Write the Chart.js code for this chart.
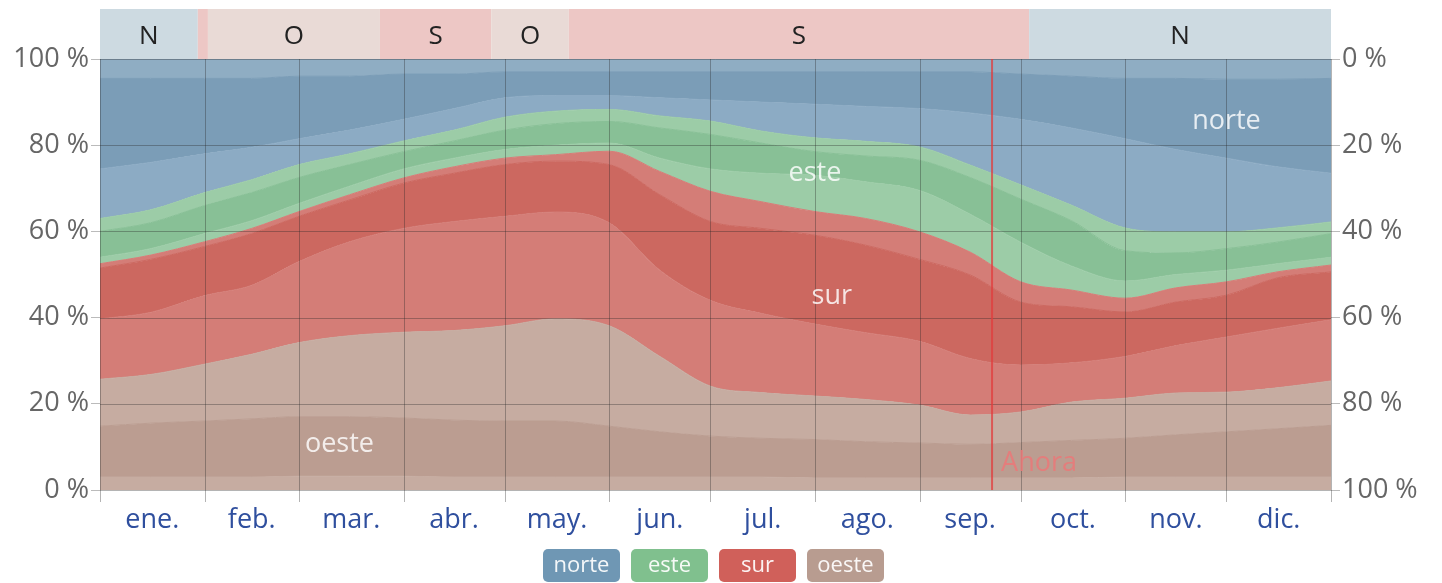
<!DOCTYPE html>
<html>
<head>
<meta charset="utf-8">
<script src="https://cdn.jsdelivr.net/npm/chart.js@4.4.1/dist/chart.umd.min.js"></script>
<style>
	html, body { margin: 0; padding: 0; background: #fff; }
	#wrap { width: 1442px; height: 583px; }
</style>
</head>
<body>
<div id="wrap"><canvas id="chart" width="1442" height="583"></canvas></div>
<script>
// day of year for each sample
const days = [0, 15, 31, 45, 59, 74, 90, 105, 120, 135, 151, 166, 181, 196, 212, 227, 243, 258, 273, 288, 304, 319, 334, 349, 365];

// upper edge (cumulative %) of each band, bottom to top
const oesteNO = [3, 3, 3, 3, 3.2, 3.2, 3.2, 3, 3, 3, 3, 3, 3, 3, 2.8, 2.8, 2.8, 2.8, 2.8, 2.8, 3, 3, 3, 3, 3];
const oesteO = [14.8, 15.5, 16, 16.5, 17, 17, 16.7, 16.2, 16, 16, 14.8, 13.5, 12.5, 12, 11.7, 11.2, 10.9, 10.6, 11, 11.5, 12, 12.8, 13.5, 14.2, 15];
const oesteSO = [25.7, 26.8, 29.2, 31.5, 34.2, 35.8, 36.6, 37, 38.1, 39.7, 38.1, 31, 24.1, 22.6, 21.8, 21, 19.7, 17.4, 18.1, 20.4, 21.3, 22.5, 22.7, 23.7, 25.3];
const surSO = [39.7, 41.2, 45.1, 47.5, 53, 57.6, 60.7, 62.3, 63.5, 64.5, 62, 51, 44, 41, 38.5, 36.5, 34.5, 30.5, 29, 29.5, 31, 33.5, 35.5, 37.5, 39.5];
const surS = [51.5, 53.5, 56.5, 59.5, 63.5, 67.3, 71.2, 73.5, 75.5, 76.3, 75.5, 68.5, 62.3, 60.7, 59.1, 56.8, 53.5, 49.9, 43.6, 42.5, 41.3, 43.6, 45.2, 49.2, 50.6];
const surSE = [52.5, 54.5, 57.6, 60.7, 64.6, 68.5, 72.4, 75, 77, 77.8, 78.6, 73.9, 69.3, 66.9, 64.6, 63, 59.9, 55.2, 48.3, 46.4, 44.5, 46.9, 48.3, 50.6, 52.2];
const esteSE = [54, 56, 59.5, 62.5, 66.5, 70.5, 74.5, 77, 79, 80, 80.5, 77, 74.5, 73.5, 73, 71.5, 69.5, 64, 57.5, 52, 48.5, 50, 51, 52.5, 54];
const esteE = [60, 62, 66, 69, 72.5, 75.5, 78.5, 81, 83.5, 85, 85.5, 84, 82.5, 80.5, 78.5, 77.5, 76.5, 72.5, 67.5, 62.5, 55.5, 55, 56, 57.5, 59.5];
const esteNE = [63, 65, 69, 72, 75.5, 78, 81, 83.5, 86.5, 87.9, 88.3, 86.8, 85.6, 83.3, 81.7, 80.9, 79.6, 75.4, 70.8, 66.1, 60.8, 59.9, 59.9, 60.8, 62.2];
const norteNE = [74.5, 76, 78, 79.5, 81.5, 83.5, 86, 88.5, 91, 91.5, 91.5, 91, 90.5, 90, 89.5, 89, 88.5, 87.5, 86, 84, 81.5, 79, 77, 75, 73.5];
const norteN = [95.5, 95.5, 95.5, 95.5, 96, 96, 96.5, 96.5, 97, 97, 97, 97, 97, 97, 97, 97, 97, 97, 96.5, 96, 95.5, 95.5, 95.3, 95.3, 95.5];
const norteNO = [100, 100, 100, 100, 100, 100, 100, 100, 100, 100, 100, 100, 100, 100, 100, 100, 100, 100, 100, 100, 100, 100, 100, 100, 100];

// months
const monthStarts = [0, 31, 59, 90, 120, 151, 181, 212, 243, 273, 304, 334, 365];
const monthMids = [15.5, 45, 74.5, 105, 135.5, 166, 196.5, 227.5, 258, 288.5, 319, 349.5];
const monthLabels = ['ene.', 'feb.', 'mar.', 'abr.', 'may.', 'jun.', 'jul.', 'ago.', 'sep.', 'oct.', 'nov.', 'dic.'];
const yTicks = [0, 20, 40, 60, 80, 100];

// dominant direction strip on top
const domStart = [0, 29, 32, 83, 116, 139, 275.5];
const domEnd = [29, 32, 83, 116, 139, 275.5, 365];
const domDir = ['N', 'S', 'O', 'S', 'O', 'S', 'N'];

const nowDay = 264.5;

const FONT = '"Open Sans", "Noto Sans", sans-serif';

const c = {
	blue: '#7b9db7',
	blueLight: '#8cabc4',
	blueTop: '#8fadc3',
	green: '#88c096',
	greenLight: '#9ccca7',
	red: '#cc6860',
	redLight: '#d47d77',
	brown: '#bb9d91',
	brownLight: '#c6aca1',
};
const domColors = { N: '#cddae1', O: '#e9dad6', S: '#edc7c5' };

const bands = [
	{ data: oesteNO, color: c.brownLight },
	{ data: oesteO, color: c.brown },
	{ data: oesteSO, color: c.brownLight },
	{ data: surSO, color: c.redLight },
	{ data: surS, color: c.red },
	{ data: surSE, color: c.redLight },
	{ data: esteSE, color: c.greenLight },
	{ data: esteE, color: c.green },
	{ data: esteNE, color: c.greenLight },
	{ data: norteNE, color: c.blueLight },
	{ data: norteN, color: c.blue },
	{ data: norteNO, color: c.blueTop },
];

const datasets = bands.map((b, i) => {
	return {
		data: days.map((d, j) => ({ x: d, y: b.data[j] })),
		backgroundColor: b.color,
		borderColor: b.color,
		borderWidth: 1,
		pointRadius: 0,
		cubicInterpolationMode: 'monotone',
		fill: i === 0 ? 'origin' : '-1',
	};
});

const overlay = {
	id: 'overlay',
	afterDatasetsDraw(chart) {
		const { ctx, chartArea: a, scales: { x, y } } = chart;
		ctx.save();
		// grid over the areas
		ctx.strokeStyle = 'rgba(40,40,40,0.35)';
		ctx.lineWidth = 1;
		yTicks.forEach(v => {
			const py = Math.round(y.getPixelForValue(v)) + 0.5;
			ctx.beginPath();
			ctx.moveTo(a.left, py);
			ctx.lineTo(a.right, py);
			ctx.stroke();
		});
		monthStarts.forEach(d => {
			const px = Math.round(x.getPixelForValue(d)) + 0.5;
			ctx.beginPath();
			ctx.moveTo(px, a.top);
			ctx.lineTo(px, a.bottom + 12);
			ctx.stroke();
		});
		// now line
		const nx = x.getPixelForValue(nowDay);
		ctx.strokeStyle = 'rgba(225,60,60,0.75)';
		ctx.lineWidth = 2;
		ctx.beginPath();
		ctx.moveTo(nx, a.top);
		ctx.lineTo(nx, a.bottom);
		ctx.stroke();

		ctx.font = '27px ' + FONT;
		ctx.textBaseline = 'middle';
		ctx.textAlign = 'left';
		ctx.fillStyle = 'rgba(235,120,120,0.85)';
		ctx.fillText('Ahora', nx + 9, 463);

		// band names
		ctx.textAlign = 'center';
		ctx.fillStyle = 'rgba(255,255,255,0.82)';
		ctx.fillText('norte', x.getPixelForValue(334), y.getPixelForValue(85.5));
		ctx.fillText('este', x.getPixelForValue(212), y.getPixelForValue(73.5));
		ctx.fillText('sur', x.getPixelForValue(217), y.getPixelForValue(45));
		ctx.fillText('oeste', x.getPixelForValue(71), y.getPixelForValue(10.5));
		ctx.restore();
	},
	afterDraw(chart) {
		const { ctx, chartArea: a, scales: { x } } = chart;
		ctx.save();
		// dominant direction strip
		domDir.forEach((dir, i) => {
			const x0 = x.getPixelForValue(domStart[i]);
			const x1 = x.getPixelForValue(domEnd[i]);
			ctx.fillStyle = domColors[dir];
			ctx.fillRect(x0, 9, x1 - x0, a.top - 9);
			if (x1 - x0 > 40) {
				ctx.fillStyle = '#222';
				ctx.font = '26px ' + FONT;
				ctx.textAlign = 'center';
				ctx.textBaseline = 'middle';
				ctx.fillText(dir, (x0 + x1) / 2, 37);
			}
		});
		// legend
		const items = [
			['norte', '#6f97b4'],
			['este', '#80c08e'],
			['sur', '#d0605a'],
			['oeste', '#b89c90'],
		];
		const w = 77, gap = 11, h = 33;
		let lx = 543;
		ctx.font = '22px ' + FONT;
		ctx.textAlign = 'center';
		ctx.textBaseline = 'middle';
		items.forEach(([t, col]) => {
			ctx.fillStyle = col;
			ctx.beginPath();
			ctx.roundRect(lx, 549, w, h, 5);
			ctx.fill();
			ctx.fillStyle = 'rgba(255,255,255,0.92)';
			ctx.fillText(t, lx + w / 2, 566);
			lx += w + gap;
		});
		ctx.restore();
	},
};

const tickFont = { family: FONT, size: 27 };

const config = {
	type: 'line',
	data: { datasets },
	options: {
		responsive: false,
		animation: false,
		events: [],
		layout: { padding: { top: 59, left: 0, right: 0, bottom: 0 } },
		scales: {
			x: {
				type: 'linear',
				min: 0,
				max: 365,
				grid: { display: false },
				border: { display: false },
				afterBuildTicks: scale => {
					scale.ticks = monthMids.map(v => ({ value: v }));
				},
				ticks: {
					autoSkip: false,
					maxRotation: 0,
					padding: 6,
					color: '#2f4f9e',
					font: tickFont,
					callback: (v, i) => monthLabels[i],
				},
				afterFit: s => {
					s.height = 93;
				},
			},
			y: {
				position: 'left',
				min: 0,
				max: 100,
				grid: { drawOnChartArea: false, tickLength: 9, color: '#bbb' },
				border: { display: false },
				afterBuildTicks: scale => {
					scale.ticks = yTicks.map(v => ({ value: v }));
				},
				ticks: {
					padding: 2,
					color: '#666',
					font: tickFont,
					callback: v => v + ' %',
				},
				afterFit: s => {
					s.width = 100;
				},
			},
			y2: {
				position: 'right',
				min: 0,
				max: 100,
				reverse: true,
				grid: { drawOnChartArea: false, tickLength: 9, color: '#bbb' },
				border: { display: false },
				afterBuildTicks: scale => {
					scale.ticks = yTicks.map(v => ({ value: v }));
				},
				ticks: {
					padding: 2,
					color: '#666',
					font: tickFont,
					callback: v => v + ' %',
				},
				afterFit: s => {
					s.width = 111;
				},
			},
		},
		plugins: {
			legend: { display: false },
			tooltip: { enabled: false },
		},
	},
	plugins: [overlay],
};

const myChart = new Chart(document.getElementById('chart'), config);
</script>
</body>
</html>
